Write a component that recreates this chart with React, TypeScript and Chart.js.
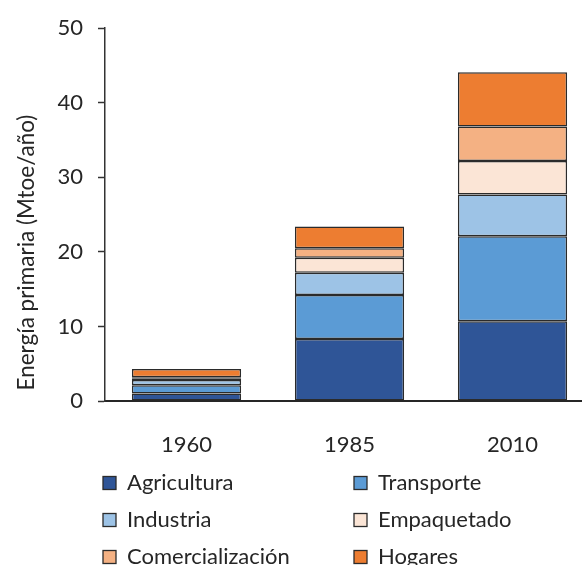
import React, { useEffect, useRef } from "react";
import { Chart, registerables } from "chart.js";

Chart.register(...registerables);

const categories = ["1960", "1985", "2010"];
const seriesNames = ["Agricultura", "Transporte", "Industria", "Empaquetado", "Comercialización", "Hogares"];
const agricultura = [1.0, 8.3, 10.7];
const transporte = [1.1, 5.9, 11.4];
const industria = [0.7, 3.0, 5.6];
const empaquetado = [0.2, 2.0, 4.5];
const comercializacion = [0.2, 1.3, 4.6];
const hogares = [1.1, 2.9, 7.3];
const seriesColors = ["#2F5597", "#5B9BD5", "#9DC3E6", "#FBE5D6", "#F4B183", "#ED7D31"];
const yTitle = "Energía primaria (Mtoe/año)";

const FONT = "Lato, 'Open Sans', sans-serif";
const TEXT = "#262626";

const legendPlugin = {
  id: "gridLegend",
  afterDraw(chart: any) {
    const ctx = chart.ctx;
    const area = chart.chartArea;
    const ds = chart.data.datasets;
    ctx.save();
    // y-axis title
    ctx.save();
    ctx.font = `22.5px ${FONT}`;
    ctx.fillStyle = TEXT;
    ctx.textAlign = "center";
    ctx.textBaseline = "middle";
    ctx.translate(area.left - 78, (area.top + area.bottom) / 2 + 38);
    ctx.rotate(-Math.PI / 2);
    ctx.fillText(yTitle, 0, 0);
    ctx.restore();
    // legend
    ctx.font = `22px ${FONT}`;
    ctx.textBaseline = "middle";
    ctx.textAlign = "left";
    const box = 13;
    ds.forEach((d: any, i: number) => {
      const col = i % 2;
      const row = Math.floor(i / 2);
      const x = area.left - 2 + col * 251;
      const y = area.bottom + 82 + row * 37;
      ctx.fillStyle = d.backgroundColor;
      ctx.fillRect(x, y - box / 2, box, box);
      ctx.strokeStyle = "#2b2b2b";
      ctx.lineWidth = 1.3;
      ctx.strokeRect(x, y - box / 2, box, box);
      ctx.fillStyle = TEXT;
      ctx.fillText(d.label, x + box + 11, y);
    });
    ctx.restore();
  },
};

export default function App() {
  const ref = useRef<HTMLCanvasElement>(null);
  useEffect(() => {
    if (!ref.current) return;
    const values = [agricultura, transporte, industria, empaquetado, comercializacion, hogares];
    const chart = new Chart(ref.current, {
      type: "bar",
      data: {
        labels: categories,
        datasets: seriesNames.map((name, i) => ({
          label: name,
          data: values[i],
          backgroundColor: seriesColors[i],
          borderColor: "#2b2b2b",
          borderWidth: 1.5,
          borderSkipped: false,
          barPercentage: 0.67,
          categoryPercentage: 1,
        })),
      },
      options: {
        responsive: false,
        animation: false,
        devicePixelRatio: 1,
        layout: { padding: { top: 23, right: 0, left: 0, bottom: 0 } },
        plugins: { legend: { display: false }, tooltip: { enabled: false } },
        scales: {
          x: {
            stacked: true,
            grid: { display: false },
            border: { display: true, color: "#262626", width: 2 },
            ticks: { color: TEXT, font: { family: FONT, size: 22 }, padding: 23 },
            afterFit: (s: any) => { s.height = 164; },
          },
          y: {
            stacked: true,
            min: 0,
            max: 50,
            ticks: { stepSize: 10, color: TEXT, font: { family: FONT, size: 22 }, padding: 15 },
            grid: { drawOnChartArea: false, drawTicks: true, tickLength: 7, tickColor: "#333", tickWidth: 1.5 },
            border: { display: true, color: "#333", width: 1.5 },
            title: { display: false },
            afterFit: (s: any) => { s.width = 105; },
          },
        },
      },
      plugins: [legendPlugin],
    });
    return () => chart.destroy();
  }, []);
  return (
    <div style={{ position: "fixed", left: 0, top: 0, width: 582, height: 565, overflow: "hidden", background: "#fff" }}>
      <canvas ref={ref} width={594} height={565} style={{ display: "block" }} />
    </div>
  );
}
